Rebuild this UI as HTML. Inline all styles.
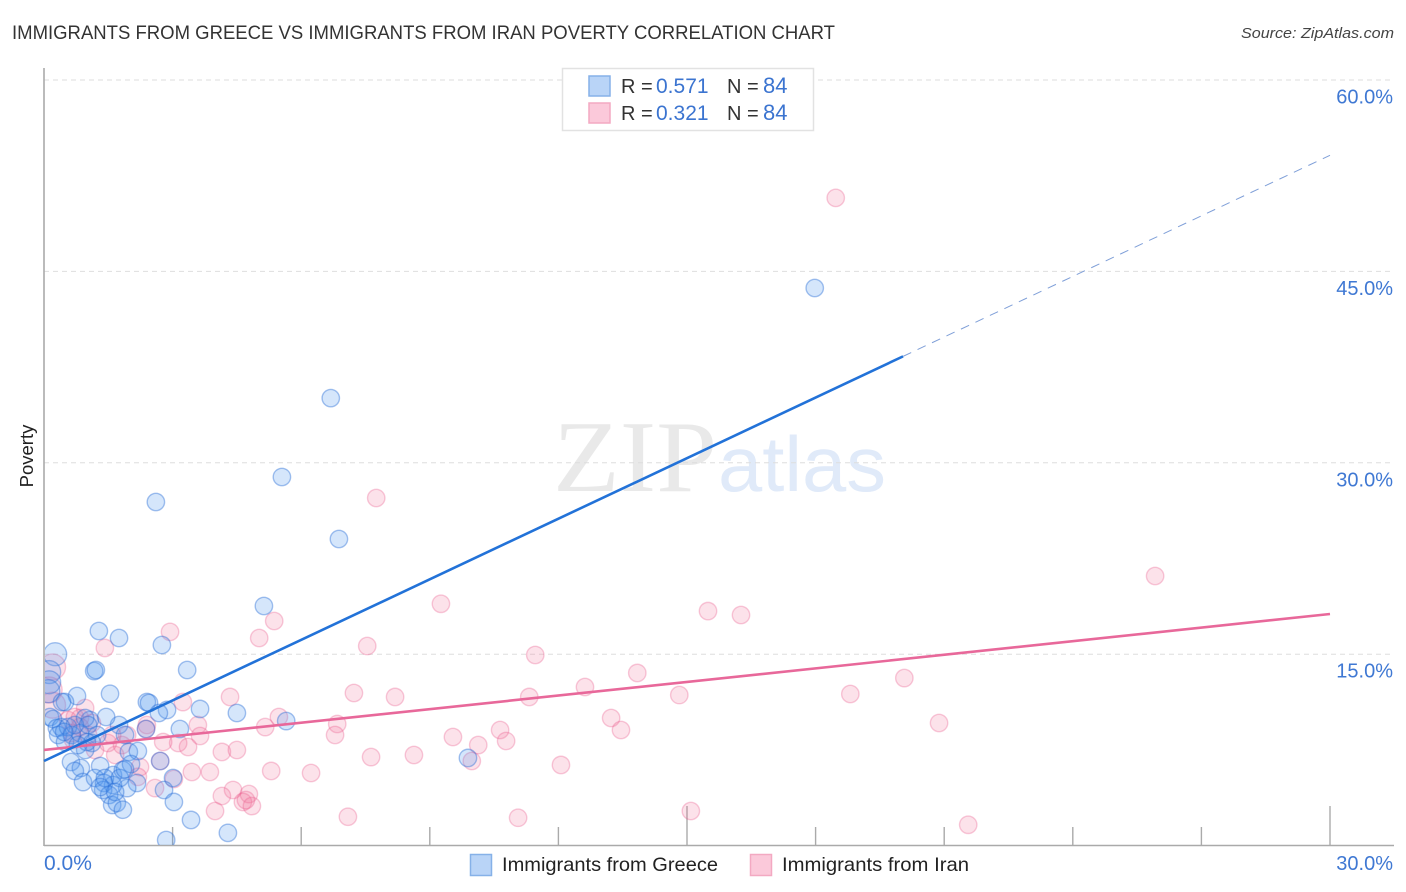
<!DOCTYPE html>
<html lang="en">
<head>
<meta charset="utf-8">
<title>Immigrants from Greece vs Immigrants from Iran Poverty Correlation Chart</title>
<style>
html,body{margin:0;padding:0;background:#fff;}
body{width:1406px;height:892px;overflow:hidden;}
svg{display:block;font-family:"Liberation Sans",sans-serif;}
</style>
</head>
<body>
<svg id="chart" width="1406" height="892" viewBox="0 0 1406 892">
  <defs><clipPath id="plot-clip"><rect x="45" y="60" width="1349" height="785"/></clipPath></defs>
  <text x="12" y="39" font-size="19.5" fill="#333" textLength="823" lengthAdjust="spacingAndGlyphs">IMMIGRANTS FROM GREECE VS IMMIGRANTS FROM IRAN POVERTY CORRELATION CHART</text>
  <text x="1394" y="38" font-size="15" font-style="italic" fill="#444" text-anchor="end" textLength="153" lengthAdjust="spacingAndGlyphs">Source: ZipAtlas.com</text>

  <g>
    <text x="553" y="491" font-family="'Liberation Serif',serif" font-size="102" fill="#e9e9e9" textLength="164" lengthAdjust="spacingAndGlyphs">ZIP</text>
    <text x="718" y="491" font-size="78" fill="#e0eaf9" textLength="168" lengthAdjust="spacingAndGlyphs">atlas</text>
  </g>

  <g id="grid"></g>
  <g id="ticks"></g>
  <line x1="44" y1="68" x2="44" y2="846" stroke="#aaa" stroke-width="1.6"/>
  <line x1="44" y1="845.5" x2="1394" y2="845.5" stroke="#aaa" stroke-width="1.6"/>
  <g id="points" clip-path="url(#plot-clip)" style="filter:blur(0.35px)"></g>
  <g id="trends"></g>
  <g id="ylabels"></g>
  <g id="xlabels"></g>

  <text transform="translate(33,456) rotate(-90)" font-size="18.5" fill="#222" text-anchor="middle">Poverty</text>

  <g>
    <rect x="562.5" y="68.5" width="251" height="62" fill="#fff" stroke="#e2e2e2" stroke-width="1.5"/>
    <rect x="589" y="76" width="21" height="20" fill="#b9d4f7" stroke="#86b1e8" stroke-width="1.5"/>
    <rect x="589" y="103" width="21" height="20" fill="#fbc9da" stroke="#f3a9c2" stroke-width="1.5"/>
    <text y="93" font-size="20"><tspan x="621" fill="#333">R =</tspan><tspan x="656" fill="#3b74d0" font-size="21">0.571</tspan><tspan x="727" fill="#333">N =</tspan><tspan x="763" fill="#3b74d0" font-size="22">84</tspan></text>
    <text y="120" font-size="20"><tspan x="621" fill="#333">R =</tspan><tspan x="656" fill="#3b74d0" font-size="21">0.321</tspan><tspan x="727" fill="#333">N =</tspan><tspan x="763" fill="#3b74d0" font-size="22">84</tspan></text>
  </g>

  <g>
    <rect x="470.5" y="854.5" width="21" height="21" fill="#b9d4f7" stroke="#86b1e8" stroke-width="1.5"/>
    <text x="502" y="871" font-size="19.5" fill="#222" textLength="216" lengthAdjust="spacingAndGlyphs">Immigrants from Greece</text>
    <rect x="750.5" y="854.5" width="21" height="21" fill="#fbc9da" stroke="#f3a9c2" stroke-width="1.5"/>
    <text x="782" y="871" font-size="19.5" fill="#222" textLength="187" lengthAdjust="spacingAndGlyphs">Immigrants from Iran</text>
  </g>
</svg>
<script>
const greeceX = [17.98,6.69,5.55,2.61,6.88,5.13,1.28,1.75,2.75,1.17,1.21,3.34,0.77,1.54,2.40,2.45,0.49,0.42,3.64,2.87,2.68,4.50,5.65,9.89,3.17,2.38,1.75,1.45,1.07,0.96,0.14,0.21,0.30,0.40,0.33,0.49,0.84,1.24,1.89,1.12,0.96,1.00,1.98,2.19,2.71,0.63,0.86,0.72,1.31,0.91,1.19,1.61,1.84,2.03,2.17,1.94,1.61,1.40,1.38,3.01,2.80,3.03,1.52,1.59,1.70,1.84,3.43,4.29,2.85,0.56,0.65,0.72,0.79,0.47,1.03,1.42,1.77,1.31,1.66,1.89];
const greeceY = [43.70,35.07,28.89,26.93,24.03,18.78,16.82,16.27,15.72,13.68,13.76,13.76,11.72,11.90,11.25,11.18,11.25,11.25,10.71,10.63,10.39,10.39,9.76,6.87,9.14,9.14,9.45,10.08,9.84,10.00,10.08,9.92,9.22,9.29,8.67,8.12,8.82,8.67,8.67,8.04,7.49,8.12,7.34,7.41,6.63,6.55,6.08,5.85,6.24,4.98,5.30,5.53,5.92,6.39,4.91,4.51,4.75,4.91,4.36,5.30,4.36,3.42,3.97,3.18,3.34,2.81,2.01,1.00,0.44,9.29,8.67,9.45,7.88,8.91,9.45,5.30,5.30,4.59,4.20,5.98];
const greeceLargeX = [0.26,0.12,0.12,0.10];
const greeceLargeY = [15.00,13.60,12.80,12.10];
const iranX = [18.47,7.75,25.92,9.26,15.49,16.26,5.37,2.94,5.02,1.42,7.54,11.46,13.84,20.07,12.62,18.81,14.82,4.34,7.23,8.19,11.32,3.24,13.23,20.88,5.48,5.16,6.84,10.64,13.46,3.59,6.79,9.54,10.13,10.78,3.64,3.13,3.36,2.78,4.15,4.50,8.63,7.63,9.98,12.06,5.30,6.23,3.45,3.87,4.41,4.15,4.78,4.64,4.85,4.71,3.99,2.59,3.03,7.09,11.06,15.09,21.56,0.96,0.56,0.84,0.72,1.12,1.94,2.40,2.24,2.19,1.66,1.49,1.19,1.82,0.68,1.03,0.65,0.84,2.38,2.71,1.59];
const iranY = [50.76,27.24,21.13,18.95,18.38,18.07,17.60,16.75,16.27,15.49,15.64,14.94,13.53,13.13,12.43,11.88,11.80,11.65,11.96,11.65,11.65,11.25,10.00,9.61,10.08,9.29,9.53,9.06,9.06,9.45,8.67,8.51,7.88,8.20,8.59,8.04,7.73,8.12,7.34,7.49,7.10,6.94,6.63,6.32,5.85,5.69,5.77,5.77,4.36,3.89,4.04,3.42,3.10,3.57,2.71,4.51,5.22,2.26,2.18,2.71,1.63,10.78,9.84,10.00,10.08,9.61,8.67,9.45,6.16,5.39,7.10,8.04,7.49,7.88,8.28,8.67,8.82,9.29,9.14,6.63,8.67];
const iranLargeX = [0.20,0.12,0.20];
const iranLargeY = [14.00,12.20,11.00];
const greeceTrend = [6.63,54.10];
const greeceTrendSolidEnd = [20.04];
const iranTrend = [7.50,18.15];
const yTickValues = [15,30,45,60];
const yTickLabels = ['15.0%','30.0%','45.0%','60.0%'];
const xTickValues = [0,3,6,9,12,15,18,21,24,27,30];
const xMajorTicks = [0,15,30];
const xLabelValues = [0,30];
const xLabelTexts = ['0.0%','30.0%'];

const NS = 'http://www.w3.org/2000/svg';
function xScale(v){ return 44 + v * (1286 / 30); }
function yScale(v){ return 845.6 - v * (191.4 / 15); }
function make(tag, parent, attrs){
  const el = document.createElementNS(NS, tag);
  for (const k in attrs) el.setAttribute(k, attrs[k]);
  document.getElementById(parent).appendChild(el);
  return el;
}
function trendValue(t, x){ return t[0] + (t[1] - t[0]) * x / 30; }

yTickValues.forEach(function(v, i){
  const g = make('line', 'grid', {x1:44, x2:1394, y1:yScale(v), y2:yScale(v), stroke:'#dedede', 'stroke-width':1, 'stroke-dasharray':'5 4'});
  
  
  const t = make('text', 'ylabels', {x:1393, y:yScale(v) + 23.5, 'font-size':20, fill:'#3f78d3', 'text-anchor':'end'});
  t.textContent = yTickLabels[i];
  
  
});

xTickValues.forEach(function(v){
  const major = xMajorTicks.indexOf(v) >= 0;
  if (v === 0) return;
  const k = make('line', 'ticks', {x1:xScale(v), x2:xScale(v), y1:major ? 806 : 827, y2:845, stroke:'#aaa', 'stroke-width':1.4});
  
  
});

xLabelValues.forEach(function(v, i){
  const t = make('text', 'xlabels', {x:i === 0 ? xScale(v) : 1393, y:870, 'font-size':i === 0 ? 21 : 20, fill:'#3f78d3', 'text-anchor':i === 0 ? 'start' : 'end'});
  t.textContent = xLabelTexts[i];
  
  
});

const pinkStyle = {fill:'rgba(240,110,150,0.2)', stroke:'rgba(232,90,140,0.32)', 'stroke-width':1.4};
const blueStyle = {fill:'rgba(80,150,240,0.24)', stroke:'rgba(40,110,215,0.42)', 'stroke-width':1.4};
function drawSeries(xs, ys, r, style, label){
  xs.forEach(function(x, i){
    const attrs = Object.assign({cx:xScale(x), cy:yScale(ys[i]), r:r}, style);
    const c = make('circle', 'points', attrs);
    
    
  });
}
drawSeries(iranLargeX, iranLargeY, 13, pinkStyle, 'iran');
drawSeries(iranX, iranY, 8.7, pinkStyle, 'iran');
drawSeries(greeceLargeX, greeceLargeY, 11.5, blueStyle, 'greece');
drawSeries(greeceX, greeceY, 8.7, blueStyle, 'greece');

const iranLine = make('line', 'trends', {x1:xScale(0), y1:yScale(trendValue(iranTrend,0)), x2:xScale(30), y2:yScale(trendValue(iranTrend,30)), stroke:'#e8689a', 'stroke-width':2.6});


const solidEnd = greeceTrendSolidEnd[0];
const greeceLine = make('line', 'trends', {x1:xScale(0), y1:yScale(trendValue(greeceTrend,0)), x2:xScale(solidEnd), y2:yScale(trendValue(greeceTrend,solidEnd)), stroke:'#2272d8', 'stroke-width':2.6});


const greeceDash = make('line', 'trends', {x1:xScale(solidEnd), y1:yScale(trendValue(greeceTrend,solidEnd)), x2:xScale(30), y2:yScale(trendValue(greeceTrend,30)), stroke:'#7f9fd8', 'stroke-width':1, 'stroke-dasharray':'9 7'});


</script>
</body>
</html>
